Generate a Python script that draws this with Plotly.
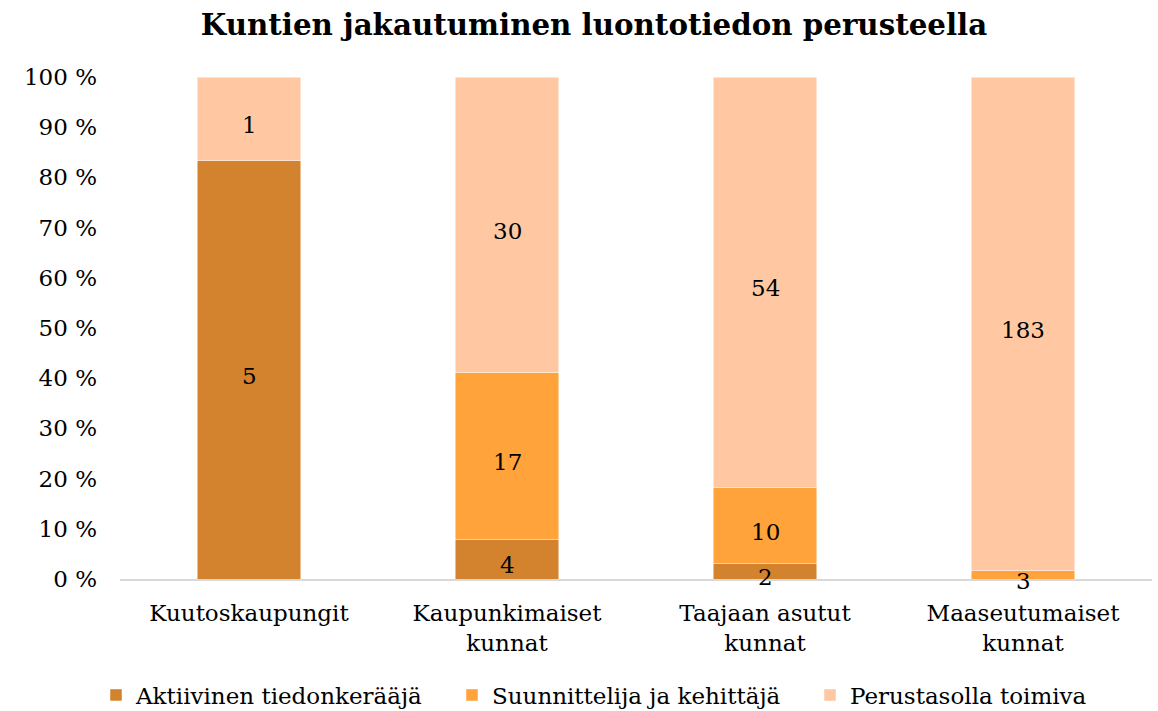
import plotly.graph_objects as go

categories = ["Kuutoskaupungit", "Kaupunkimaiset<br>kunnat", "Taajaan asutut<br>kunnat", "Maaseutumaiset<br>kunnat"]
series_names = ["Aktiivinen tiedonkerääjä", "Suunnittelija ja kehittäjä", "Perustasolla toimiva"]
aktiivinen = [5, 4, 2, 0]
suunnittelija = [0, 17, 10, 3]
perustaso = [1, 30, 54, 183]
colors = ["#D3822E", "#FFA33A", "#FFC8A3"]
y_ticks = [0, 10, 20, 30, 40, 50, 60, 70, 80, 90, 100]
y_tick_labels = [f"{v} %" for v in y_ticks]

FONT = "DejaVu Serif"
FS = 23
W, H = 1158, 711
series = [aktiivinen, suunnittelija, perustaso]
totals = [sum(v) for v in zip(*series)]

# one legend box per series so the entries sit at fixed spots along the bottom
legend_ids = ["legend", "legend2", "legend3"]
legend_left_px = [96, 452, 810]

fig = go.Figure()
for name, vals, col, lg in zip(series_names, series, colors, legend_ids):
    pct = [100.0 * v / t for v, t in zip(vals, totals)]
    fig.add_trace(go.Bar(
        x=categories, y=pct, name=name, legend=lg, showlegend=True,
        marker=dict(color=col, line=dict(color="rgba(255,255,255,0.6)", width=0.8)),
        width=0.4, hoverinfo="skip",
    ))

# count labels at the middle of each segment
annotations = []
for i, cat in enumerate(categories):
    base = 0.0
    for vals in series:
        p = 100.0 * vals[i] / totals[i]
        if vals[i] > 0:
            annotations.append(dict(
                x=cat, y=base + p / 2, xref="x", yref="y", text=str(vals[i]),
                showarrow=False, yshift=-6,
                font=dict(family=FONT, size=FS, color="#000000"),
            ))
        base += p

legend_style = dict(orientation="h", xref="container", xanchor="left",
                    yref="container", y=1 - 695 / H, yanchor="middle",
                    font=dict(family=FONT, size=FS), itemwidth=30,
                    bgcolor="rgba(0,0,0,0)", visible=True)
legends = {lg: dict(legend_style, x=px / W) for lg, px in zip(legend_ids, legend_left_px)}

fig.update_layout(
    barmode="stack",
    showlegend=True,
    width=W, height=H,
    margin=dict(l=120, r=6, t=77, b=132, autoexpand=False),
    paper_bgcolor="white", plot_bgcolor="white",
    font=dict(family=FONT, size=FS, color="#000000"),
    title=dict(text="<b>Kuntien jakautuminen luontotiedon perusteella</b>",
               x=594 / W, xanchor="center", y=0.965, yanchor="middle",
               font=dict(family=FONT, size=29.3, color="#000000")),
    bargap=0.6,
    annotations=annotations,
    xaxis=dict(showline=True, linecolor="#D9D9D9", linewidth=2, showgrid=False,
               ticks="", ticklabelstandoff=12, tickfont=dict(family=FONT, size=FS)),
    yaxis=dict(range=[0, 100], tickvals=y_ticks, ticktext=y_tick_labels, showgrid=False,
               zeroline=False, showline=False, ticks="", ticklabelstandoff=22,
               tickfont=dict(family=FONT, size=FS)),
    **legends,
)

fig.write_html("out.html")
